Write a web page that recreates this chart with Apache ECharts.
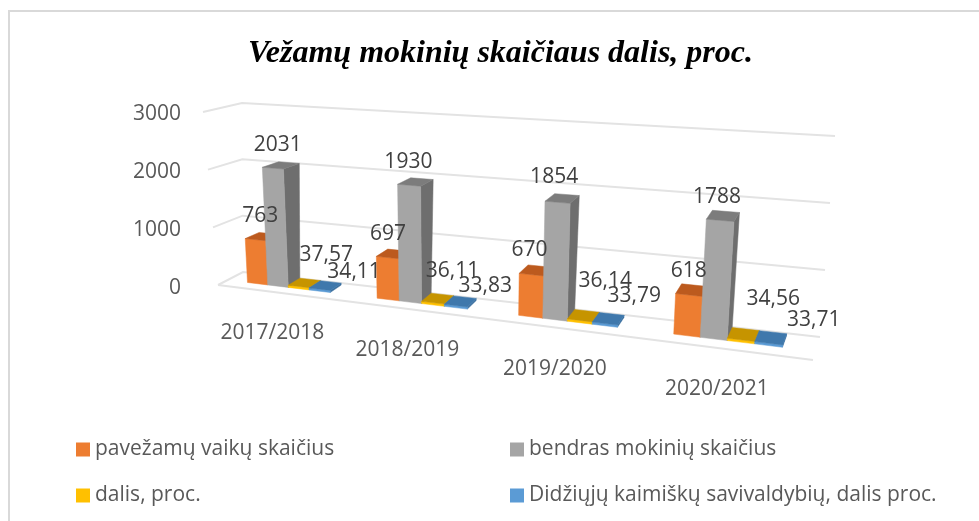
<!DOCTYPE html>
<html>
<head>
<meta charset="utf-8">
<style>html,body{margin:0;padding:0;background:#fff}#c{width:979px;height:521px}</style>
<script src="https://cdn.jsdelivr.net/npm/echarts@6/dist/echarts.min.js"></script>
</head>
<body>
<div id="c"></div>
<script>
// ---------- data ----------
var titleText = 'Vežamų mokinių skaičiaus dalis, proc.';
var categories = ['2017/2018', '2018/2019', '2019/2020', '2020/2021'];
var valueTicks = [0, 1000, 2000, 3000];
var pavezamu = [763, 697, 670, 618];
var bendras = [2031, 1930, 1854, 1788];
var dalis = [37.57, 36.11, 36.14, 34.56];
var didziuju = [34.11, 33.83, 33.79, 33.71];
var seriesNames = ['pavežamų vaikų skaičius', 'bendras mokinių skaičius', 'dalis, proc.', 'Didžiųjų kaimiškų savivaldybių, dalis proc.'];

// ---------- style ----------
var faceColors = ['#ED7D31', '#A5A5A5', '#FFC000', '#5B9BD5'];
var topColors = ['#BC5A1E', '#7C7C7C', '#C69400', '#3F78AC'];
var sideColors = ['#B55A22', '#6E6E6E', '#B58700', '#3A6F9F'];
var textColor = '#595959';
var labelColor = '#404040';
var gridColor = '#E3E3E3';
var sansFont = '"Open Sans", "Noto Sans", sans-serif';

// Picture of the unit cube (s along categories, d into the picture, v up) in the oblique view.
var view = {
  fl0: [218, 285], fl1: [203, 112],
  bl0: [243, 272], bl1: [242, 103],
  br0: [820, 337], br1: [835, 136],
  fr0: [813, 360], fr1: [828, 153],
  perspective: 1.2
};
var barWidth = 0.162, barShift = -0.014, barFront = 0.38, barBack = 0.88;

// label nudges [dx, dy] per series and category, from the top of each bar
var labelNudges = [
  [[-2, -20], [-5, -20], [-6, -20], [-3, -19]],
  [[-3, -20], [-7, -20], [-8, -21], [-6, -19]],
  [[22, -28], [15, -28], [22, -35], [30, -35]],
  [[29, -14], [25, -15], [26, -23], [43, -18]]
];

function lerp(a, b, t) { return a + (b - a) * t; }
function warp(s) { return s / (s + view.perspective * (1 - s)); }
function project(s, d, v) {
  var u = warp(s), out = [];
  for (var k = 0; k < 2; k++) {
    var bottom = lerp(lerp(view.fl0[k], view.fr0[k], u), lerp(view.bl0[k], view.br0[k], u), d);
    var top = lerp(lerp(view.fl1[k], view.fr1[k], u), lerp(view.bl1[k], view.br1[k], u), d);
    out.push(lerp(bottom, top, v));
  }
  return out;
}
// normalised position from the cartesian scales
function norm(params, api, cat, offset, value) {
  var cs = params.coordSys;
  var p = api.coord([cat, value]);
  var band = api.size([1, 0])[0];
  return { s: (p[0] + offset * band - cs.x) / cs.width, v: (cs.y + cs.height - p[1]) / cs.height };
}
function poly(points, fill) {
  return { type: 'polygon', shape: { points: points }, style: { fill: fill, stroke: fill, lineWidth: 0.5 } };
}
function fmt(v) { return String(v).replace('.', ','); }

function barRenderer(idx) {
  return function (params, api) {
    var cat = api.value(0), val = api.value(1);
    var off = (idx - 2) * barWidth + barShift;
    var a = norm(params, api, cat, off, val);
    var b = norm(params, api, cat, off + barWidth, 0);
    var s0 = a.s, s1 = b.s, v = a.v;
    var f00 = project(s0, barFront, 0), f10 = project(s1, barFront, 0);
    var f01 = project(s0, barFront, v), f11 = project(s1, barFront, v);
    var b11 = project(s1, barBack, v), b01 = project(s0, barBack, v), b10 = project(s1, barBack, 0);
    var nudge = labelNudges[idx][cat];
    var cx = (f01[0] + b11[0]) / 2, cy = (f01[1] + b11[1]) / 2;
    return {
      type: 'group',
      children: [
        poly([f10, b10, b11, f11], sideColors[idx]),
        poly([f00, f10, f11, f01], faceColors[idx]),
        poly([f01, f11, b11, b01], topColors[idx]),
        { type: 'text', z2: 100, style: {
            x: cx + nudge[0], y: cy + nudge[1], text: fmt(val),
            fill: labelColor, font: '21px ' + sansFont, align: 'center', verticalAlign: 'middle' } }
      ]
    };
  };
}

function wallRenderer(params, api) {
  var val = api.value(0);
  var n = norm(params, api, 0, 0, val);
  var fl = project(0, 0, n.v), bl = project(0, 1, n.v), br = project(1, 1, n.v);
  var style = { stroke: gridColor, lineWidth: 2, fill: 'none' };
  var kids = [{ type: 'polyline', shape: { points: [fl, bl, br] }, style: style }];
  if (val === 0) {
    kids.push({ type: 'line', shape: { x1: fl[0], y1: fl[1], x2: project(1, 0, 0)[0], y2: project(1, 0, 0)[1] }, style: style });
  }
  return { type: 'group', children: kids };
}

function catLabelRenderer(params, api) {
  var cat = api.value(0);
  var n = norm(params, api, cat, 0, 0);
  var p = project(n.s, 0, 0);
  return { type: 'text', style: {
    x: p[0] - 9, y: p[1] + 40, text: categories[cat],
    fill: textColor, font: '21px ' + sansFont, align: 'center', verticalAlign: 'middle' } };
}

var allValues = [pavezamu, bendras, dalis, didziuju];
var series = [
  { type: 'custom', name: 'walls', silent: true, renderItem: wallRenderer, clip: false,
    encode: { y: 0 }, data: valueTicks.map(function (t) { return [t]; }) },
  { type: 'custom', name: 'categories', silent: true, renderItem: catLabelRenderer, clip: false,
    encode: { x: 0 }, data: categories.map(function (c, i) { return [i]; }) }
];
allValues.forEach(function (vals, idx) {
  series.push({
    type: 'custom', name: seriesNames[idx], clip: false, renderItem: barRenderer(idx),
    itemStyle: { color: faceColors[idx] }, encode: { x: 0, y: 1 },
    data: vals.map(function (v, i) { return [i, v]; })
  });
});

var legendSpots = [[76, 439], [510, 439], [76, 485], [510, 485]];
var chart = echarts.init(document.getElementById('c'), null, { renderer: 'canvas' });
chart.setOption({
  animation: false,
  backgroundColor: '#fff',
  title: { text: titleText, left: 248, top: 38, padding: 0,
    textStyle: { fontFamily: '"Liberation Serif", serif', fontStyle: 'italic', fontWeight: 'bold', fontSize: 32, color: '#000' } },
  graphic: [{ type: 'rect', silent: true, z: -1,
    shape: { x: 9, y: 11, width: 990, height: 530 },
    style: { fill: 'none', stroke: '#D9D9D9', lineWidth: 2 } }],
  legend: seriesNames.map(function (name, i) {
    return { data: [name], left: legendSpots[i][0], top: legendSpots[i][1], icon: 'rect', padding: 0,
      itemWidth: 14, itemHeight: 14, itemGap: 6, selectedMode: false,
      textStyle: { color: textColor, fontFamily: sansFont, fontSize: 21 } };
  }),
  grid: { left: 200, width: 630, top: 114, height: 174, containLabel: false },
  xAxis: { type: 'category', data: categories, show: false },
  yAxis: { type: 'value', min: 0, max: 3000, interval: 1000,
    axisLine: { show: false }, axisTick: { show: false }, splitLine: { show: false },
    axisLabel: { margin: 19, color: textColor, fontFamily: sansFont, fontSize: 21, formatter: function (v) { return String(v); } } },
  series: series
});
</script>
</body>
</html>
